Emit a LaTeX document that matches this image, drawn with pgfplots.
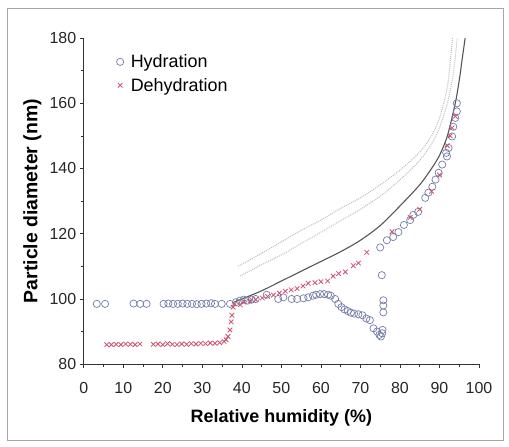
\documentclass[border=0pt]{standalone}
\usepackage{fontspec}
\setmainfont{Liberation Sans}
\usepackage{pgfplots}
\pgfplotsset{compat=1.18}
\definecolor{hyd}{RGB}{115,125,168}
\definecolor{deh}{RGB}{205,80,110}
\definecolor{solidc}{RGB}{85,85,85}
\definecolor{dotc}{RGB}{190,190,190}
\begin{document}
\begin{tikzpicture}
\begin{axis}[name=ax, scale only axis, width=395bp, height=326bp,
 xmin=0, xmax=100, ymin=80, ymax=180,
 axis lines=left, axis line style={-, line width=0.8pt, black!80},
 xtick={0,10,...,100}, ytick={80,100,...,180},
 minor x tick num=1, minor y tick num=1,
 tick align=outside, major tick length=4bp, minor tick length=2.5bp,
 tick style={black!80, line width=0.6pt},
 /pgf/number format/assume math mode=true,
 tick label style={font=\fontsize{16}{18}\selectfont, text=black!85},
 xticklabel style={yshift=-11bp},
 xlabel={Relative humidity (\%)}, ylabel={Particle diameter (nm)},
 xlabel style={font=\bfseries\fontsize{18}{20}\selectfont, at={(axis description cs:0.5,-0.163)}, anchor=center},
 ylabel style={font=\bfseries\fontsize{19.5}{21}\selectfont, at={(axis description cs:-0.13,0.5)}, anchor=center},
 legend style={draw=none, fill=none, at={(axis description cs:0.075,0.962)}, anchor=north west,
   font=\fontsize{18}{20}\selectfont, row sep=5bp},
 legend cell align=left,
 clip=true]
% hydration
\addplot[only marks, mark=o, mark size=3.6bp, hyd, mark options={line width=0.7bp}] coordinates {
(3.3,98.5)(5.4,98.5)(12.6,98.6)(14.3,98.5)(15.9,98.5)
(20.2,98.5)(21.4,98.6)(22.6,98.5)(23.8,98.5)(25.0,98.6)(26.2,98.5)(27.4,98.5)(28.6,98.4)(29.8,98.5)(31.0,98.6)(32.2,98.7)(33.2,98.5)
(34.9,98.5)(37.0,98.5)(38.5,99.0)(39.5,99.5)(40.5,99.8)(41.5,99.5)(42.5,99.8)(43.5,100.0)
(46.3,101.3)(49.2,100.0)(50.5,100.5)(52.6,100.0)(54.0,100.0)(55.6,100.2)(56.8,100.5)(58.0,101.0)
(58.8,101.3)(59.8,101.5)(60.8,101.5)(61.8,101.3)(62.5,101.0)(63.6,100.0)(64.4,98.5)(65.2,97.5)
(66.0,96.8)(66.8,96.3)(67.6,95.8)(68.4,95.5)(69.5,95.3)(70.5,95.0)(71.5,94.0)(72.4,93.5)
(73.3,91.0)(74.2,90.0)(74.8,89.0)(75.2,88.5)(75.5,89.5)(75.6,90.5)
(75.4,107.3)(75.8,99.6)(75.8,98.0)(75.8,95.9)(75.0,115.8)
(76.7,118.0)(78.3,119.0)(79.6,120.5)(81.0,122.7)(82.6,124.2)(83.4,125.8)(84.6,126.7)
(86.4,131.0)(87.2,132.6)(88.2,134.4)(89.0,136.6)(89.8,138.7)(90.7,141.2)(91.7,144.8)
(91.9,143.7)(92.3,146.3)(93.2,149.8)(93.5,152.8)(94.0,155.5)(94.4,157.5)(94.4,160.0)
};
\addlegendentry{\hspace{5bp}Hydration}
% dehydration
\addplot[only marks, mark=x, mark size=3.2bp, deh, mark options={line width=0.8bp}] coordinates {
(5.8,86.0)(7.0,86.0)(8.2,86.1)(9.4,86.0)(10.6,86.2)(11.8,86.1)(13.0,86.0)(14.2,86.2)
(17.6,86.1)(18.8,86.2)(20.0,86.0)(21.2,86.3)(22.4,86.1)(23.6,86.0)(24.8,86.2)(26.0,86.1)(27.2,86.3)
(28.4,86.2)(29.6,86.4)(30.8,86.3)(32.0,86.5)(33.2,86.4)(34.4,86.6)(35.5,87.0)
(36.0,87.5)(36.5,88.5)(37.0,90.5)(37.3,93.0)(37.5,95.0)(37.8,97.5)(38.2,98.5)
(39.6,98.2)(40.5,99.0)(42.1,99.4)(43.5,99.8)(45.2,100.3)(46.5,100.8)(48.0,101.2)(49.5,101.8)
(51.0,102.4)(52.5,102.8)(54.0,103.2)(55.5,104.0)(56.8,104.8)(58.5,105.0)(60.0,105.3)(61.7,105.5)
(63.1,107.0)(64.5,107.8)(66.2,108.3)(68.2,110.2)(69.5,111.0)(71.6,114.3)
(78.0,120.6)(82.6,125.0)(85.0,127.5)(88.0,133.0)(90.0,138.0)(92.0,147.0)(92.7,150.0)(93.2,152.5)(94.0,156.0)
};
\addlegendentry{\hspace{5bp}Dehydration}
% solid curve
\addplot[solidc, line width=1.1bp, smooth, forget plot] coordinates {
(38,99)(40,100)(45,102.5)(50,105.5)(55,108.5)(60,111.5)(65,114.5)(70,118)(75,122.5)(80,128.5)
(85,135)(88,140)(90,144)(92,150)(94,160)(95,167)(95.8,174)(96.5,180)
};
% dotted curves
\addplot[dotc, line width=1bp, densely dotted, smooth, forget plot] coordinates {
(39,110)(45,114)(50,117.5)(55,121)(60,124.2)(65,127.8)(70,131)(75,135)(80,139.5)(85,145)
(88,150)(90,155.5)(92,165)(93.3,180)
};
\addplot[dotc, line width=1bp, densely dotted, smooth, forget plot] coordinates {
(39.5,107)(45,110.5)(50,113.5)(55,117)(60,120.5)(65,124)(70,127.5)(75,131.5)(80,136.5)(85,142.5)
(88,147.5)(90,152.5)(92,160)(93.5,169)(94.5,180)
};
\end{axis}
\pgfresetboundingbox
\path[use as bounding box] ([shift={(-83.7bp,-82bp)}]ax.south west) rectangle ([shift={(30bp,38bp)}]ax.north east);
\draw[gray!70, line width=0.9bp] ([shift={(-76.7bp,-76bp)}]ax.south west) rectangle ([shift={(24bp,30bp)}]ax.north east);
\end{tikzpicture}
\end{document}
